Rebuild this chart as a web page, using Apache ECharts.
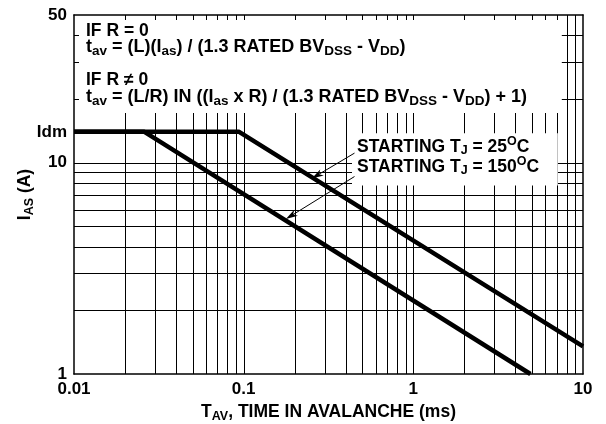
<!DOCTYPE html>
<html>
<head>
<meta charset="utf-8">
<style>
  html, body { margin: 0; padding: 0; background: #fff; }
  #chart { width: 606px; height: 424px; }
</style>
<script src="https://cdn.jsdelivr.net/npm/echarts@6/dist/echarts.min.js"></script>
</head>
<body>
<div id="chart"></div>
<script>
// log paper grid values
const xGrid = [0.02, 0.03, 0.04, 0.05, 0.06, 0.07, 0.08, 0.09, 0.1,
  0.2, 0.3, 0.4, 0.5, 0.6, 0.7, 0.8, 0.9, 1,
  2, 3, 4, 5, 6, 7, 8, 9];
const yGrid = [2, 3, 4, 5, 6, 7, 8, 9, 10, 20, 30, 40];

// Idm level and the two avalanche curves [t_av (ms), I_AS (A)]
const idm = 14;
const tj25 = [[0.01, 14], [0.094, 14], [10, 1.35]];
const tj150 = [[0.01, 14], [0.026, 14], [4.9, 1]];

const FONT = '"Liberation Sans", Arial, Helvetica, sans-serif';
const chart = echarts.init(document.getElementById('chart'));

function px(v) {
  return Math.round(v) + 0.5;
}

function vLine(params, api) {
  const cs = params.coordSys;
  const x = px(api.coord([api.value(0), 1])[0]);
  return { type: 'line', shape: { x1: x, y1: cs.y, x2: x, y2: cs.y + cs.height },
    style: { stroke: '#000', lineWidth: 1 } };
}
function hLine(params, api) {
  const cs = params.coordSys;
  const y = px(api.coord([0.01, api.value(1)])[1]);
  return { type: 'line', shape: { x1: cs.x, y1: y, x2: cs.x + cs.width, y2: y },
    style: { stroke: '#000', lineWidth: 1 } };
}
function topTick(params, api) {
  const cs = params.coordSys;
  const x = px(api.coord([api.value(0), 1])[0]);
  return { type: 'line', shape: { x1: x, y1: cs.y, x2: x, y2: cs.y + 5 },
    style: { stroke: '#000', lineWidth: 1 } };
}
function leftTick(params, api) {
  const cs = params.coordSys;
  const y = px(api.coord([0.01, api.value(1)])[1]);
  return { type: 'line', shape: { x1: cs.x, y1: y, x2: cs.x + 5, y2: y },
    style: { stroke: '#000', lineWidth: 1 } };
}
function whiteBox(params, api) {
  const p0 = api.coord([api.value(0), api.value(3)]);
  const p1 = api.coord([api.value(2), api.value(1)]);
  return { type: 'rect', shape: { x: p0[0], y: p0[1], width: p1[0] - p0[0], height: p1[1] - p0[1] },
    style: { fill: '#fff' } };
}

const sub = { fontSize: 12.5, fontWeight: 'bold', fontFamily: FONT, padding: [8, 0, 0, 0] };
const subBig = { fontSize: 13.5, fontWeight: 'bold', fontFamily: FONT, padding: [8, 0, 0, 0] };
const sup = { fontSize: 12.5, fontWeight: 'bold', fontFamily: FONT, padding: [0, 0, 10, 0] };

function label(x, y, text, size, subStyle) {
  return {
    type: 'text', x: x, y: y, z: 100,
    style: {
      text: text, fill: '#000', fontSize: size, fontWeight: 'bold', fontFamily: FONT,
      textVerticalAlign: 'middle', rich: { sub: subStyle, sup: sup }
    }
  };
}

const logAxis = {
  type: 'log', logBase: 10, z: 10,
  axisLine: { show: true, onZero: false, lineStyle: { color: '#000', width: 1.5 } },
  axisTick: { show: false },
  splitLine: { show: false },
  minorTick: { show: false },
  minorSplitLine: { show: false }
};
const labelStyle = { color: '#000', fontSize: 17, fontWeight: 'bold', fontFamily: FONT };
const nameStyle = { color: '#000', fontSize: 17.5, fontWeight: 'bold', fontFamily: FONT, rich: { sub: sub } };

const option = {
  animation: false,
  backgroundColor: '#fff',
  grid: { left: 74, right: 23, top: 15, bottom: 50, containLabel: false, outerBoundsMode: 'none' },
  xAxis: [
    Object.assign({}, logAxis, {
      min: 0.01, max: 10, position: 'bottom',
      axisLabel: Object.assign({ margin: 7 }, labelStyle),
      name: 'T{sub|AV}, TIME IN AVALANCHE (ms)',
      nameLocation: 'middle', nameGap: 28,
      nameTextStyle: nameStyle
    }),
    Object.assign({}, logAxis, { min: 0.01, max: 10, position: 'top', axisLabel: { show: false } })
  ],
  yAxis: [
    Object.assign({}, logAxis, {
      min: 1, max: 50, position: 'left',
      axisLabel: Object.assign({ margin: 7 }, labelStyle),
      name: 'I{sub|AS} (A)',
      nameLocation: 'middle', nameGap: 38,
      nameTextStyle: nameStyle
    }),
    Object.assign({}, logAxis, { min: 1, max: 50, position: 'right', axisLabel: { show: false } })
  ],
  graphic: [
    label(86, 31, 'IF R = 0', 17.5, subBig),
    label(86, 47, 't{sub|av} = (L)(I{sub|as}) / (1.3 RATED BV{sub|DSS} - V{sub|DD})', 18, subBig),
    label(86, 80, 'IF R \u2260 0', 17.5, subBig),
    label(86, 97, 't{sub|av} = (L/R) IN ((I{sub|as} x R) / (1.3 RATED BV{sub|DSS} - V{sub|DD}) + 1)', 18, subBig),
    label(357, 147, 'STARTING T{sub|J} = 25{sup|O}C', 17.5, sub),
    label(357, 167, 'STARTING T{sub|J} = 150{sup|O}C', 17.5, sub)
  ],
  series: [
    { type: 'custom', name: 'vgrid', z: 1, silent: true, renderItem: vLine,
      data: xGrid.map(v => [v, 1]) },
    { type: 'custom', name: 'hgrid', z: 1, silent: true, renderItem: hLine,
      data: yGrid.map(v => [0.01, v]) },
    { type: 'custom', name: 'boxes', z: 3, silent: true, renderItem: whiteBox,
      encode: { x: [0, 2], y: [1, 3] },
      data: [[0.01, 17.2, 7.5, 50], [0.435, 7.8, 7.1, 13.8]] },
    { type: 'custom', name: 'xticks', z: 4, silent: true, renderItem: topTick,
      data: xGrid.map(v => [v, 1]) },
    { type: 'custom', name: 'yticks', z: 4, silent: true, renderItem: leftTick,
      data: yGrid.map(v => [0.01, v]) },
    {
      type: 'line', name: 'STARTING TJ = 25°C', z: 8, data: tj25,
      symbol: 'none', lineStyle: { color: '#000', width: 4.5 },
      markLine: {
        silent: true, symbol: 'none',
        lineStyle: { color: 'rgba(0,0,0,0)', width: 1 },
        label: Object.assign({ position: 'start', formatter: 'Idm', distance: 7 }, labelStyle),
        data: [{ yAxis: idm }]
      }
    },
    {
      type: 'line', name: 'STARTING TJ = 150°C', z: 8, data: tj150,
      symbol: 'none', lineStyle: { color: '#000', width: 4.5 },
      markLine: {
        silent: true,
        symbol: ['none', 'path://M5,0 L10,14 L5,10 L0,14 Z'],
        symbolSize: [7, 12],
        lineStyle: { color: '#000', width: 1, type: 'solid' },
        itemStyle: { color: '#000' },
        label: { show: false },
        data: [
          [{ coord: [0.45, 11.1] }, { coord: [0.27, 8.7] }],
          [{ coord: [0.45, 8.6] }, { coord: [0.19, 5.6] }]
        ]
      }
    }
  ]
};

chart.setOption(option);
</script>
</body>
</html>
